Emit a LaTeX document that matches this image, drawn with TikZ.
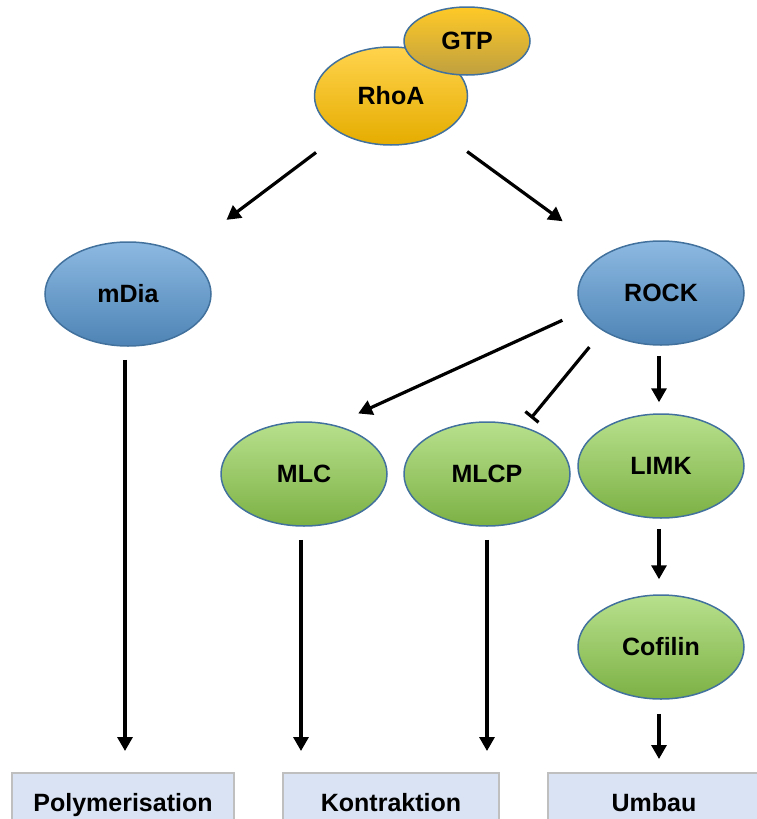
\documentclass[tikz,border=0pt]{standalone}
\usepackage{fontspec}
\setmainfont{Liberation Sans}
\usetikzlibrary{arrows.meta,shapes.geometric}
\definecolor{goldbase}{HTML}{FFC000}
\definecolor{bluebase}{HTML}{5B9BD5}
\definecolor{greenbase}{HTML}{92D050}
\definecolor{edgeblue}{HTML}{41719C}
\definecolor{boxfill}{HTML}{DAE3F3}
\definecolor{boxedge}{HTML}{BFBFBF}
\begin{document}
\begin{tikzpicture}[x=1pt,y=-1pt,
  ell/.style={ellipse, draw=edgeblue, line width=1.5pt, inner sep=0pt,
    minimum width=166pt, minimum height=104pt,
    font=\fontsize{25}{25}\selectfont\bfseries, text height=17.5pt, text depth=0pt},
  blueell/.style={ell, top color=bluebase!70!white, middle color=bluebase!92!white, bottom color=bluebase!85!black},
  greenell/.style={ell, top color=greenbase!65!white, middle color=greenbase, bottom color=greenbase!85!black},
  goldell/.style={ell, top color=goldbase!70!white, middle color=goldbase, bottom color=goldbase!90!black},
  gtpell/.style={ell, top color=goldbase!85!white, middle color=goldbase!92!black, bottom color=goldbase!50!gray},
  outbox/.style={rectangle, draw=boxedge, fill=boxfill, line width=2pt, inner sep=0pt,
    minimum height=58pt, font=\fontsize{25}{25}\selectfont\bfseries, text height=18pt, text depth=0pt},
  arr/.style={line width=3.2pt, -{Triangle[width=15pt,length=14pt]}},
  inh/.style={line width=3.2pt, -{Bar[width=17pt,line width=3.2pt]}}
]
\useasboundingbox (0,0) rectangle (757,819);

% nodes
\node[goldell, minimum width=153pt, minimum height=98pt] (RhoA) at (391,96) {RhoA};
\node[gtpell, minimum width=126pt, minimum height=68pt] (GTP) at (467,41) {GTP};
\node[blueell] (mDia) at (128,294) {mDia};
\node[blueell] (ROCK) at (661,293) {ROCK};
\node[greenell] (MLC) at (304,474) {MLC};
\node[greenell] (MLCP) at (487,474) {MLCP};
\node[greenell] (LIMK) at (661,466) {LIMK};
\node[greenell] (Cofilin) at (661,647) {Cofilin};

\node[outbox, minimum width=222pt] (Poly) at (123,802) {Polymerisation};
\node[outbox, minimum width=216pt] (Kon) at (391,802) {Kontraktion};
\node[outbox, minimum width=212pt] (Umbau) at (654,802) {Umbau};

% connectors
\draw[arr, shorten <=31pt, shorten >=56pt] (RhoA) -- (mDia);
\draw[arr, shorten <=31pt, shorten >=54pt] (RhoA) -- (ROCK);
\draw[arr, shorten <=13pt, shorten >=21pt] ([xshift=-3pt]mDia.south) -- ([xshift=-3pt]mDia.south |- Poly.north);
\draw[arr, shorten <=22pt, shorten >=27pt] (ROCK.193) -- (MLC.59);
\draw[inh, shorten <=21pt, shorten >=11pt] (ROCK.213) -- (MLCP.52);
\draw[arr, shorten <=10pt, shorten >=11pt] ([xshift=-2pt]ROCK.south) -- ([xshift=-2pt]LIMK.north);
\draw[arr, shorten <=10pt, shorten >=15pt] ([xshift=-2pt]LIMK.south) -- ([xshift=-2pt]Cofilin.north);
\draw[arr, shorten <=14pt, shorten >=13pt] ([xshift=-2pt]Cofilin.south) -- ([xshift=-2pt]Cofilin.south |- Umbau.north);
\draw[arr, shorten <=13pt, shorten >=21pt] ([xshift=-3pt]MLC.south) -- ([xshift=-3pt]MLC.south |- Kon.north);
\draw[arr, shorten <=13pt, shorten >=21pt] (MLCP.south) -- (MLCP.south |- Kon.north);
\end{tikzpicture}
\end{document}
